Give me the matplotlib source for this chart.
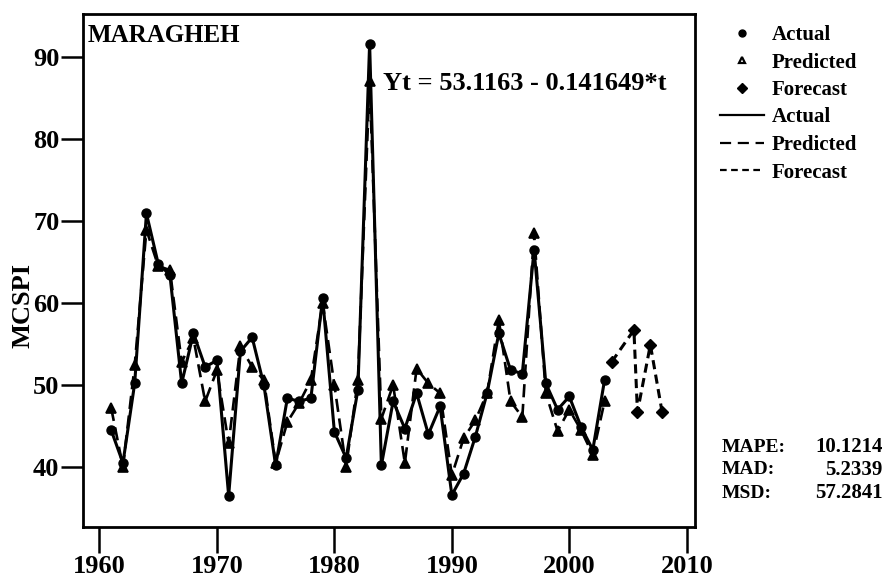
import matplotlib
matplotlib.use("Agg")
import matplotlib.pyplot as plt
from matplotlib.lines import Line2D

plt.rcParams['font.family'] = ['Liberation Serif', 'DejaVu Serif']
plt.rcParams['font.weight'] = 'bold'

# data
years = list(range(1961, 2004))
actual = [44.5, 40.5, 50.2, 70.9, 64.8, 63.4, 50.2, 56.3, 52.2, 53.0,
          36.5, 54.1, 55.8, 50.0, 40.2, 48.4, 48.0, 48.4, 60.6, 44.3,
          41.1, 49.4, 91.6, 40.2, 48.0, 44.7, 49.0, 44.0, 47.4, 36.6,
          39.2, 43.7, 49.0, 56.3, 51.8, 51.4, 66.5, 50.2, 47.0, 48.6,
          44.9, 42.1, 50.6]
predicted = [47.2, 40.0, 52.4, 68.9, 64.5, 64.0, 52.8, 55.7, 48.0, 51.8,
             42.9, 54.7, 52.2, 50.6, 40.5, 45.5, 47.8, 50.6, 60.0, 50.0,
             40.0, 50.6, 87.0, 45.9, 50.0, 40.5, 52.0, 50.2, 49.0, 39.0,
             43.5, 45.7, 49.0, 57.9, 48.0, 46.1, 68.5, 49.0, 44.4, 47.0,
             44.5, 41.5, 48.0]
fc_years = [2003.6, 2005.5, 2005.8, 2006.9, 2007.9]
forecast = [52.8, 56.7, 46.7, 54.9, 46.7]

stat_names = ['MAPE:', 'MAD:', 'MSD:']
stat_values = ['10.1214', '5.2339', '57.2841']

W, H = 886, 580
fig = plt.figure(figsize=(W / 100, H / 100), dpi=100)
ax = fig.add_axes([83 / W, 1 - 527 / H, (695 - 83) / W, (527 - 14) / H])

ax.plot(years, predicted, color='black', lw=1.9, ls=(0, (5, 2.5)),
        marker='^', ms=7, mfc='black', mec='black', mew=1.2)
ax.plot(years, actual, color='black', lw=2.2, marker='o', ms=6.5)
ax.plot(fc_years, forecast, color='black', lw=2.2, ls=(0, (3, 1.8)),
        marker='D', ms=6.5)

ax.set_xlim(1958.6, 2010.7)
ax.set_ylim(32.7, 95.2)
ax.set_xticks([1960, 1970, 1980, 1990, 2000, 2010])
ax.set_yticks([40, 50, 60, 70, 80, 90])
ax.tick_params(axis='x', direction='out', length=19, width=1.8, labelsize=19, pad=1)
ax.tick_params(axis='y', direction='out', length=16, width=1.8, labelsize=19, pad=1)
for s in ax.spines.values():
    s.set_linewidth(2)

fig.text(23 / W, 1 - 305 / H, 'MCSPI', rotation=90, ha='center', va='center',
         fontsize=19, fontweight='bold')
ax.text(0.008, 0.981, 'MARAGHEH', transform=ax.transAxes, ha='left', va='top',
        fontsize=18, fontweight='bold')
fig.text(383 / W, 1 - 83 / H, 'Yt = 53.1163 - 0.141649*t', ha='left', va='center',
         fontsize=19, fontweight='bold')

handles = [
    Line2D([], [], color='black', marker='o', ls='none', ms=5),
    Line2D([], [], color='black', marker='^', ls='none', ms=5, mfc='white', mew=1.6),
    Line2D([], [], color='black', marker='D', ls='none', ms=5),
    Line2D([], [], color='black', lw=1.6),
    Line2D([], [], color='black', lw=1.6, ls=(0, (5, 3))),
    Line2D([], [], color='black', lw=1.6, ls=(0, (3, 2))),
]
labels = ['Actual', 'Predicted', 'Forecast', 'Actual', 'Predicted', 'Forecast']
fig.legend(handles, labels, loc='upper left', bbox_to_anchor=(720 / W, 1 - 25 / H),
           frameon=False, fontsize=15, handlelength=2.1, handletextpad=0.4,
           labelspacing=0.36, borderpad=0, borderaxespad=0)

for i, (n, v) in enumerate(zip(stat_names, stat_values)):
    y = 1 - (447 + 23 * i) / H
    fig.text(722 / W, y, n, ha='left', va='center', fontsize=14, fontweight='bold')
    fig.text(883 / W, y, v, ha='right', va='center', fontsize=15, fontweight='bold')

fig.savefig('out.png', dpi=100)
